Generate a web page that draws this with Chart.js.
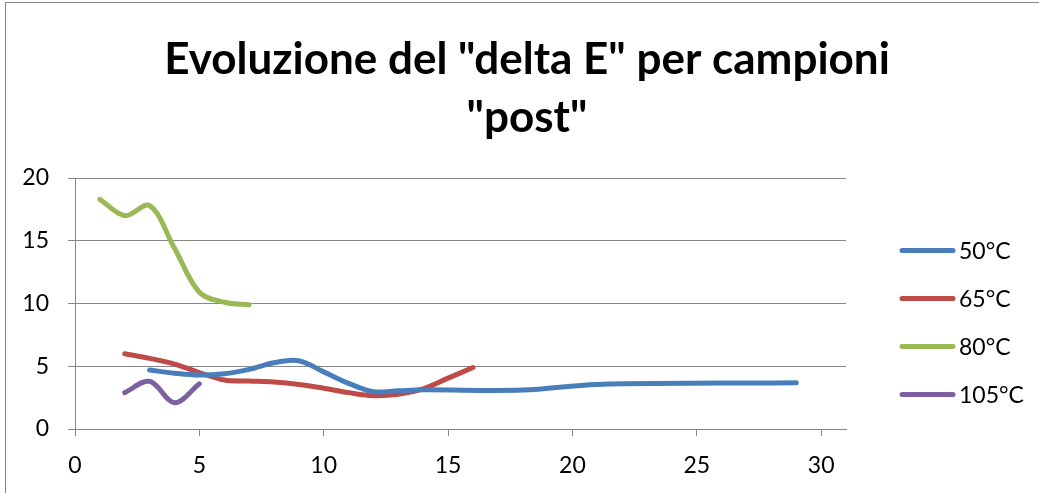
<!DOCTYPE html>
<html>
<head>
<meta charset="utf-8">
<script src="https://cdn.jsdelivr.net/npm/chart.js@4/dist/chart.umd.min.js"></script>
<style>
  html, body { margin: 0; padding: 0; background: #fff; }
  canvas { display: block; }
</style>
</head>
<body>
<canvas id="myChart" width="1039" height="493"></canvas>
<script>
const titleLines = ['Evoluzione del "delta E" per campioni', '"post"']
const seriesNames = ['50°C', '65°C', '80°C', '105°C']
const seriesColors = ['#4A7EBB', '#BE4B48', '#98B954', '#7D60A0']

const x50 = [3, 4, 5, 6, 7, 8, 9, 10, 11, 12, 13, 14, 18, 21, 29]
const y50 = [4.7, 4.45, 4.3, 4.4, 4.75, 5.28, 5.44, 4.55, 3.64, 2.97, 3.05, 3.12, 3.1, 3.55, 3.68]

const x65 = [2, 3, 4, 5, 6, 7, 8, 9, 10, 11, 12, 13, 14, 15, 16]
const y65 = [6.0, 5.63, 5.17, 4.5, 3.9, 3.82, 3.74, 3.55, 3.25, 2.9, 2.65, 2.76, 3.2, 4.05, 4.9]

const x80 = [1, 2, 3, 4, 5, 6, 7]
const y80 = [18.3, 17.0, 17.8, 14.4, 10.9, 10.1, 9.9]

const x105 = [2, 3, 4, 5]
const y105 = [2.9, 3.8, 2.1, 3.6]

const xTicks = [0, 5, 10, 15, 20, 25, 30]

const allX = [x50, x65, x80, x105]
const allY = [y50, y65, y80, y105]

const FONT = 'Lato, "Open Sans", sans-serif'
const GRID = '#868686'

const frameAndText = {
  id: 'frameAndText',
  afterDraw(chart) {
    const c = chart.ctx
    c.save()
    // outer frame of the chart object
    c.strokeStyle = GRID
    c.lineWidth = 1
    c.strokeRect(5.5, 2.5, 1200, 700)

    // title
    c.fillStyle = '#000'
    c.font = 'bold 44px ' + FONT
    c.textAlign = 'center'
    c.textBaseline = 'alphabetic'
    titleLines.forEach((t, i) => c.fillText(t, 527, 74 + i * 58))

    // legend
    c.font = '23px ' + FONT
    c.textAlign = 'left'
    c.textBaseline = 'middle'
    c.lineCap = 'round'
    c.lineWidth = 5
    chart.data.datasets.forEach((ds, i) => {
      const y = 250.5 + i * 48
      c.strokeStyle = ds.borderColor
      c.beginPath()
      c.moveTo(902, y)
      c.lineTo(953, y)
      c.stroke()
      c.fillStyle = '#000'
      c.fillText(ds.label, 959, y + 1)
    })
    c.restore()
  }
}

const ctx = document.getElementById('myChart')

const datasets = seriesNames.map((name, i) => ({
  label: name,
  data: allX[i].map((x, j) => ({ x: x, y: allY[i][j] })),
  showLine: true,
  borderColor: seriesColors[i],
  backgroundColor: seriesColors[i],
  borderWidth: 5,
  borderCapStyle: 'round',
  borderJoinStyle: 'round',
  pointRadius: 0,
  tension: 0.35
}))

const myChart = new Chart(ctx, {
  type: 'scatter',
  data: { datasets: datasets },
  options: {
    responsive: false,
    animation: false,
    layout: { padding: { top: 178, right: 193, left: 0, bottom: 0 } },
    plugins: {
      legend: { display: false },
      title: { display: false },
      tooltip: { enabled: false }
    },
    scales: {
      x: {
        type: 'linear',
        min: 0,
        max: 31,
        afterBuildTicks: (s) => { s.ticks = xTicks.map(v => ({ value: v })) },
        afterFit: (s) => { s.height = 64 },
        grid: { drawOnChartArea: false, tickLength: 7, color: GRID },
        border: { color: GRID },
        ticks: {
          color: '#000',
          font: { family: FONT, size: 23 },
          padding: 16,
          maxRotation: 0
        }
      },
      y: {
        min: 0,
        max: 20,
        afterFit: (s) => { s.width = 75 },
        grid: { tickLength: 7, color: GRID },
        border: { color: GRID },
        ticks: {
          stepSize: 5,
          color: '#000',
          font: { family: FONT, size: 23 },
          padding: 19
        }
      }
    }
  },
  plugins: [frameAndText]
})
</script>
</body>
</html>
